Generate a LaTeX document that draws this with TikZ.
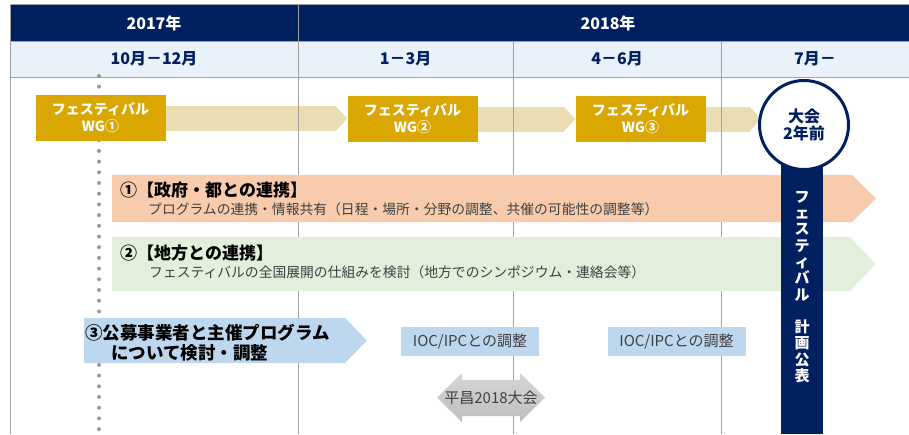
\documentclass[tikz,border=0pt]{standalone}
\usepackage{fontspec}
\setmainfont{Noto Sans CJK JP}
\usetikzlibrary{arrows.meta,positioning,backgrounds}

\definecolor{navy}{HTML}{002060}
\definecolor{bandblue}{HTML}{E9F1FA}
\definecolor{gridgray}{HTML}{A0A0A0}
\definecolor{dotgray}{HTML}{999999}
\definecolor{wggold}{HTML}{DAA600}
\definecolor{wglight}{HTML}{EBDDB2}
\definecolor{peach}{HTML}{F8CBAD}
\definecolor{lightgreen}{HTML}{E2EFDA}
\definecolor{lightblue}{HTML}{BDD7EE}
\definecolor{darktext}{HTML}{404040}
\definecolor{pctop}{HTML}{D6D6D6}
\definecolor{pcbottom}{HTML}{BEBEBE}

\tikzset{>={Triangle[length=12pt,width=25pt]}}
\tikzset{grid/.style={draw=gridgray, line width=1pt}}
\tikzset{year/.style={text=white, font=\bfseries\fontsize{16}{18}\selectfont}}
\tikzset{month/.style={text=navy, font=\bfseries\fontsize{16}{18}\selectfont}}
\tikzset{wg/.style={fill=wggold, text=white, align=center, inner sep=0pt,
    minimum width=130pt, minimum height=46pt, font=\bfseries\fontsize{14}{17}\selectfont}}
\tikzset{wgarrow/.style={->, draw=wglight, line width=25pt}}
\tikzset{lanetitle/.style={anchor=west, inner sep=0pt, font=\bfseries\fontsize{17}{20}\selectfont}}
\tikzset{lanetext/.style={anchor=west, inner sep=0pt, text=darktext,
    font=\fontsize{13.8}{16}\selectfont}}
\tikzset{ioc/.style={fill=lightblue, text=darktext, inner sep=0pt,
    minimum width=138pt, minimum height=29pt, font=\fontsize{15}{17}\selectfont}}

\begin{document}
\begin{tikzpicture}[x=1pt, y=-1pt]
    \useasboundingbox (0,0) rectangle (909,434);

    % header bands
    \fill[navy] (10,5) rectangle (909,41);
    \fill[bandblue] (10,41) rectangle (909,77);
    \draw[grid] (10,4.5) -- (909,4.5);
    \draw[grid] (10,41) -- (909,41);
    \draw[grid] (10,77) -- (909,77);
    \draw[grid] (10,4.5) -- (10,434);
    \draw[grid] (298,5) -- (298,434);
    \draw[grid] (513,41) -- (513,434);
    \draw[grid] (721,41) -- (721,434);

    \node(y2017)[year] at (154,23) {2017年};
    \node(y2018)[year] at (608,23) {2018年};
    \node(m1012)[month] at (154,59) {10月－12月};
    \node(m0103)[month] at (405.5,59) {1－3月};
    \node(m0406)[month] at (617,59) {4－6月};
    \node(m07)[month] at (815,59) {7月－};

    \draw[dotgray, line width=4pt, line cap=round, dash pattern=on 0pt off 10.7pt]
        (99,76) -- (99,434);

    % working groups
    \node(wg1)[wg] at (100.5,118) {フェスティバル\\WG①};
    \node(wg2)[wg] at (412.5,119) {フェスティバル\\WG②};
    \node(wg3)[wg] at (640.5,119) {フェスティバル\\WG③};

    % lanes
    \fill[peach] (112,175) -- (852,175) -- (876,198.5) -- (852,222) -- (112,222) -- cycle;
    \fill[lightgreen] (112,237) -- (850,237) -- (876,264) -- (850,291) -- (112,291) -- cycle;
    \fill[lightblue] (84,318) -- (345,318) -- (367,340.5) -- (345,363) -- (84,363) -- cycle;

    \node(lane1)[lanetitle] at (120,190) {①【政府・都との連携】};
    \node(lane1text)[lanetext] at (148,209)
        {プログラムの連携・情報共有（日程・場所・分野の調整、共催の可能性の調整等）};
    \node(lane2)[lanetitle] at (120,253) {②【地方との連携】};
    \node(lane2text)[lanetext] at (149,272)
        {フェスティバルの全国展開の仕組みを検討（地方でのシンポジウム・連絡会等）};
    \node(lane3)[lanetitle, align=left, font=\bfseries\fontsize{17.5}{19.5}\selectfont]
        at (85,342.5) {③公募事業者と主催プログラム\\\hspace{26pt}について検討・調整};

    \node(ioc1)[ioc] at (470,341.5) {IOC/IPCとの調整};
    \node(ioc2)[ioc] at (676.5,341.5) {IOC/IPCとの調整};

    \shade[top color=pctop, bottom color=pcbottom]
        (437,397.5) -- (462,373) -- (462,380) -- (520,380) -- (520,373) -- (545,397.5)
        -- (520,422) -- (520,416) -- (462,416) -- (462,422) -- cycle;
    \node(pc)[text=darktext, inner sep=0pt, font=\fontsize{15}{17}\selectfont]
        at (491,398) {平昌2018大会};

    % plan announcement
    \node(plan)[fill=navy, minimum width=42pt, minimum height=274pt, inner sep=0pt,
        anchor=north] at (802,160) {};
    \node(plantext)[text=white, align=center, inner sep=0pt,
        font=\bfseries\fontsize{15}{16.3}\selectfont] at (802,287)
        {フ\\ェ\\ス\\テ\\ィ\\バ\\ル\\[16pt]計\\画\\公\\表};
    \node(goal)[circle, draw=navy, line width=3pt, fill=white, minimum size=89pt,
        inner sep=0pt, align=center, text=navy,
        font=\bfseries\fontsize{16}{17}\selectfont] at (804,125) {大会\\2年前};

    \begin{pgfonlayer}{background}
    \draw[wgarrow] (wg1.east |- 0,118.5) to (wg2.west |- 0,118.5);
    \draw[wgarrow] (wg2.east) to (wg3.west);
    \draw[wgarrow] (wg3.east) to ([xshift=3pt]wg3.east -| goal.west);
    \end{pgfonlayer}

\end{tikzpicture}
\end{document}
